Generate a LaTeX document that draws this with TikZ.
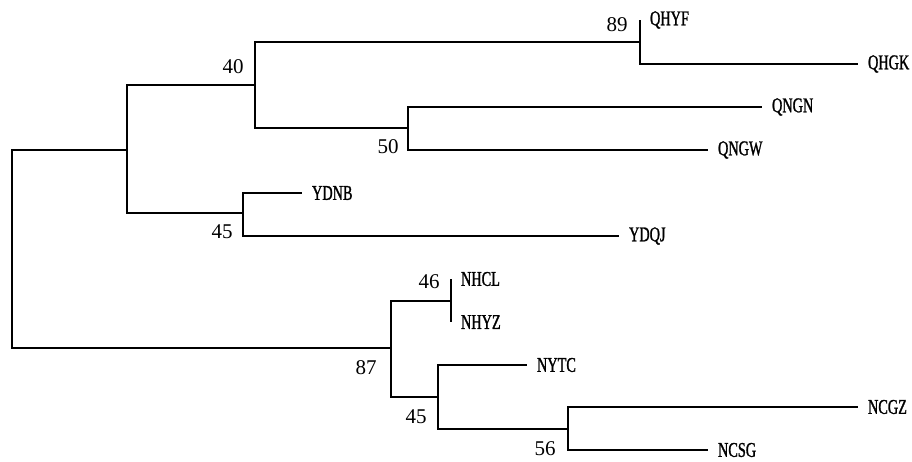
\documentclass[tikz,border=0pt]{standalone}
\usepackage{fontspec}
\setmainfont{Liberation Serif}
\newfontfamily\taxonfont[FakeStretch=0.68, FakeBold=1.2]{Liberation Serif}
\usetikzlibrary{positioning}

\begin{document}
\begin{tikzpicture}[x=1pt, y=-1pt, line width=2.1pt, node distance=9pt,
  taxon/.style={font=\taxonfont\fontsize{21}{24}\selectfont, inner sep=0pt},
  boot/.style={font=\fontsize{21}{24}\selectfont, inner sep=0pt}]
  \useasboundingbox (0,0) rectangle (912,461);

  % Nodos internos
  \coordinate (root) at (12,249);
  \coordinate (nQY)  at (127,150);
  \coordinate (n40)  at (255,85);
  \coordinate (n89)  at (640,42);
  \coordinate (n50)  at (408,128);
  \coordinate (n45a) at (243,213);
  \coordinate (n87)  at (391,348);
  \coordinate (n46)  at (451,301);
  \coordinate (n45b) at (438,397);
  \coordinate (n56)  at (568,429);

  % Puntas de las ramas
  \coordinate (tQHYF) at (640,20);
  \coordinate (tQHGK) at (858,64);
  \coordinate (tQNGN) at (762,107);
  \coordinate (tQNGW) at (708,150);
  \coordinate (tYDNB) at (302,193);
  \coordinate (tYDQJ) at (619,236);
  \coordinate (tNHCL) at (451,279);
  \coordinate (tNHYZ) at (451,322);
  \coordinate (tNYTC) at (527,365);
  \coordinate (tNCGZ) at (858,407);
  \coordinate (tNCSG) at (708,450);

  % Ramas
  \draw (root) |- (nQY);
  \draw (root) |- (n87);
  \draw (nQY) |- (n40);
  \draw (nQY) |- (n45a);
  \draw (n40) |- (n89);
  \draw (n40) |- (n50);
  \draw (n89) |- (tQHYF);
  \draw (n89) |- (tQHGK);
  \draw (n50) |- (tQNGN);
  \draw (n50) |- (tQNGW);
  \draw (n45a) |- (tYDNB);
  \draw (n45a) |- (tYDQJ);
  \draw (n87) |- (n46);
  \draw (n87) |- (n45b);
  \draw (n46) |- (tNHCL);
  \draw (n46) |- (tNHYZ);
  \draw (n45b) |- (tNYTC);
  \draw (n45b) |- (n56);
  \draw (n56) |- (tNCGZ);
  \draw (n56) |- (tNCSG);

  % Nombres de las muestras
  \node[taxon, right=of tQHYF] (QHYF) {QHYF};
  \node[taxon, right=of tQHGK] (QHGK) {QHGK};
  \node[taxon, right=of tQNGN] (QNGN) {QNGN};
  \node[taxon, right=of tQNGW] (QNGW) {QNGW};
  \node[taxon, right=of tYDNB] (YDNB) {YDNB};
  \node[taxon, right=of tYDQJ] (YDQJ) {YDQJ};
  \node[taxon, right=of tNHCL] (NHCL) {NHCL};
  \node[taxon, right=of tNHYZ] (NHYZ) {NHYZ};
  \node[taxon, right=of tNYTC] (NYTC) {NYTC};
  \node[taxon, right=of tNCGZ] (NCGZ) {NCGZ};
  \node[taxon, right=of tNCSG] (NCSG) {NCSG};

  % Valores bootstrap
  \node[boot] (b89)  at (617,25)  {89};
  \node[boot] (b40)  at (233,67)  {40};
  \node[boot] (b50)  at (388,147) {50};
  \node[boot] (b45a) at (222,232) {45};
  \node[boot] (b46)  at (429,282) {46};
  \node[boot] (b87)  at (366,368) {87};
  \node[boot] (b45b) at (416,417) {45};
  \node[boot] (b56)  at (545,449) {56};
\end{tikzpicture}
\end{document}
